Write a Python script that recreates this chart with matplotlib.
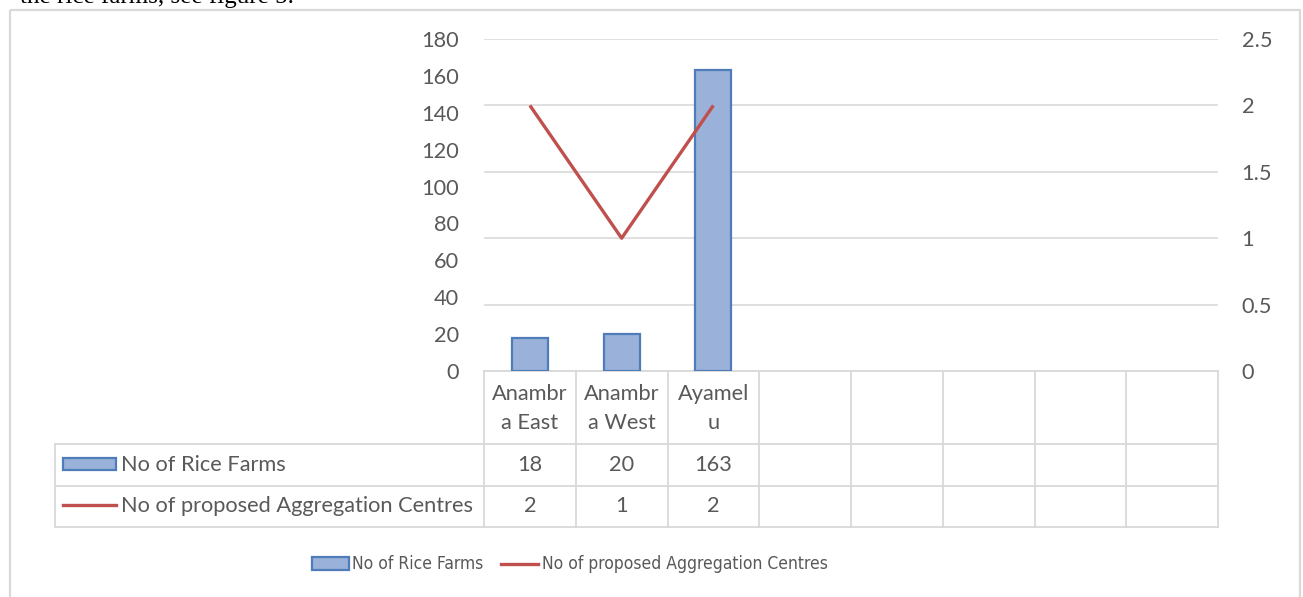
import matplotlib
matplotlib.use("Agg")
import matplotlib.pyplot as plt
from matplotlib.patches import Rectangle

plt.rcParams["font.family"] = ["Lato", "DejaVu Sans"]

# ---- data ----
districts = ["Anambra East", "Anambra West", "Ayamelu"]
district_labels = ["Anambr\na East", "Anambr\na West", "Ayamel\nu"]
rice_farms = [18, 20, 163]
agg_centres = [2, 1, 2]
n_columns = 8  # Excel keeps 5 empty category slots
left_ticks = [0, 20, 40, 60, 80, 100, 120, 140, 160, 180]
right_ticks = [0, 0.5, 1, 1.5, 2, 2.5]
series_names = ["No of Rice Farms", "No of proposed Aggregation Centres"]

TXT = "#595959"
GRID = "#D9D9D9"
BAR_FILL = "#9AB1D9"
BAR_EDGE = "#4F7DBB"
LINE_C = "#C0504D"
FS = 15.7

W, H = 1303, 597
fig = plt.figure(figsize=(W / 100, H / 100), dpi=100)

# pixel layout of the plot area
PX0, PX1, PY0, PY1 = 484, 1218, 39, 371   # left, right, top, bottom


def fx(x):
    return x / W


def fy(y):
    return 1 - y / H


# background axes in pixel coordinates (frame, data table, legend)
bg = fig.add_axes([0, 0, 1, 1])
bg.set_xlim(0, W)
bg.set_ylim(H, 0)
bg.axis("off")

bg.add_patch(Rectangle((9.5, 10), 1290, 600, fill=False, ec=GRID, lw=1.6))
fig.text(fx(20), fy(3), "the rice farms, see figure 5.", family=["Liberation Serif"],
         fontsize=18, color="black", va="baseline", ha="left")

ax = fig.add_axes([fx(PX0), fy(PY1), fx(PX1 - PX0), (PY1 - PY0) / H])
ax2 = ax.twinx()
ax.set_zorder(1)
ax2.set_zorder(2)
ax.patch.set_visible(False)
ax2.patch.set_visible(False)

x = list(range(len(districts)))
ax.set_xlim(-0.5, n_columns - 0.5)
ax.set_ylim(left_ticks[0], left_ticks[-1])
ax2.set_ylim(right_ticks[0], right_ticks[-1])

for t in right_ticks:
    ax.axhline(t * left_ticks[-1] / right_ticks[-1], color=GRID, lw=1.2, zorder=0)

ax.bar(x, rice_farms, width=0.39, color=BAR_FILL, edgecolor=BAR_EDGE, linewidth=1.6, zorder=2)
ax2.plot(x, agg_centres, color=LINE_C, lw=2.4, solid_capstyle="butt")

for a in (ax, ax2):
    for s in a.spines.values():
        s.set_visible(False)
    a.set_xticks([])
ax.set_yticks(left_ticks)
ax2.set_yticks(right_ticks)
ax2.set_yticklabels([f"{t:g}" for t in right_ticks])
ax.tick_params(axis="y", length=0, pad=18, labelsize=FS, labelcolor=TXT)
ax2.tick_params(axis="y", length=0, pad=17, labelsize=FS, labelcolor=TXT)

# ---- data table ----
col_w = (PX1 - PX0) / n_columns
cols = [PX0 + i * col_w for i in range(n_columns + 1)]
R0, R1, R2, R3 = 371, 444, 486, 527
TL = 55
kw = dict(color=GRID, lw=1.3)
bg.plot([PX0, PX1], [R0, R0], **kw)
for yy in (R1, R2, R3):
    bg.plot([TL, PX1], [yy, yy], **kw)
bg.plot([TL, TL], [R1, R3], **kw)
for cx in cols:
    bg.plot([cx, cx], [R0, R3], **kw)

for i, lab in enumerate(district_labels):
    cx = (cols[i] + cols[i + 1]) / 2
    bg.text(cx, (R0 + R1) / 2 + 1, lab, ha="center", va="center", fontsize=FS,
            color=TXT, linespacing=1.6)
    bg.text(cx, (R1 + R2) / 2, str(rice_farms[i]), ha="center", va="center",
            fontsize=FS, color=TXT)
    bg.text(cx, (R2 + R3) / 2, str(agg_centres[i]), ha="center", va="center",
            fontsize=FS, color=TXT)

# row keys
bg.add_patch(Rectangle((63, 458), 53, 12, fc=BAR_FILL, ec=BAR_EDGE, lw=1.6))
bg.text(121, (R1 + R2) / 2, series_names[0], ha="left", va="center", fontsize=FS, color=TXT)
bg.plot([63, 116], [505, 505], color=LINE_C, lw=2.4)
bg.text(121, (R2 + R3) / 2, series_names[1], ha="left", va="center", fontsize=FS, color=TXT)

# ---- bottom legend (condensed face, as in the original) ----
LY = 564
leg_font = dict(family=["DejaVu Sans Condensed", "DejaVu Sans"], stretch="condensed")
bg.add_patch(Rectangle((312, LY - 7), 37, 13, fc=BAR_FILL, ec=BAR_EDGE, lw=1.6))
bg.text(352, LY, series_names[0], ha="left", va="center", fontsize=12.5, color=TXT, **leg_font)
bg.plot([501, 538], [LY, LY], color=LINE_C, lw=2.4)
bg.text(542, LY, series_names[1], ha="left", va="center", fontsize=12.5, color=TXT, **leg_font)

fig.savefig("out.png", dpi=100)
